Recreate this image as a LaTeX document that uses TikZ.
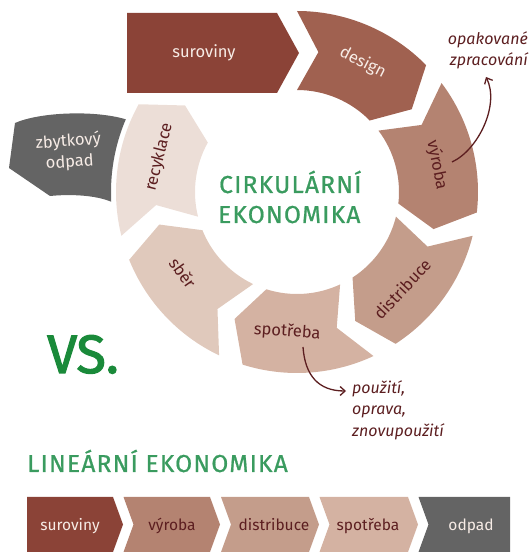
\documentclass[tikz,border=0pt]{standalone}
\usepackage{fontspec}
\setmainfont{Fira Sans}
\newfontfamily\headfont[LetterSpace=5,FakeBold=0.8]{Fira Sans}
\newfontfamily\vsfont[FakeBold=2.2]{Fira Sans}
\usetikzlibrary{arrows.meta,calc}
\definecolor{csur}{RGB}{139,67,55}
\definecolor{cdes}{RGB}{160,97,80}
\definecolor{cvyr}{RGB}{180,131,113}
\definecolor{cdis}{RGB}{196,157,139}
\definecolor{cspo}{RGB}{212,178,162}
\definecolor{csbe}{RGB}{224,201,188}
\definecolor{crec}{RGB}{236,222,215}
\definecolor{cgray}{RGB}{100,100,100}
\definecolor{cgreen}{RGB}{58,155,95}
\definecolor{cvs}{RGB}{26,138,58}
\definecolor{cmaroon}{RGB}{92,30,32}
\definecolor{clight}{RGB}{247,236,230}
\def\Ro{181}
\def\Ri{102}
\def\Rm{141.5}
\def\dd{8.7}
\newcommand\ringseg[3]{%
  \fill[#1] ($(C)+(#2:\Ro pt)$) arc[start angle=#2,end angle=#3,radius=\Ro pt]
    -- ($(C)+({#3-\dd}:\Rm pt)$) -- ($(C)+(#3:\Ri pt)$)
    arc[start angle=#3,end angle=#2,radius=\Ri pt]
    -- ($(C)+({#2-\dd}:\Rm pt)$) -- cycle;}
\begin{document}
\begin{tikzpicture}[x=1pt,y=1pt,
  ringtxt/.style={font=\fontsize{16.5}{21}\selectfont, inner sep=0pt},
  lintxt/.style={font=\fontsize{15.5}{19}\selectfont, inner sep=0pt, anchor=base},
  note/.style={font=\fontsize{16}{21.5}\selectfont\itshape, text=cmaroon, inner sep=0pt},
  head/.style={font=\fontsize{24.5}{30}\selectfont\headfont, text=cgreen, inner sep=0pt, anchor=base west},
  curly/.style={draw=cmaroon, line width=1.3pt, -{Straight Barb[length=5pt,width=9pt]}}]
\useasboundingbox (0,0) rectangle (531,552);
\coordinate (C) at (297,360);
% circular economy ring
\fill[csur] (127,539) -- (277,539) -- (299,499) -- (277,459) -- (127,459) -- cycle;
\ringseg{cdes}{90}{44.5}
\ringseg{cvyr}{37}{-6.5}
\ringseg{cdis}{-14}{-57}
\ringseg{cspo}{-65}{-107.5}
\ringseg{csbe}{-115.5}{-158}
\ringseg{crec}{-166}{-209}
% residual waste
\fill[cgray] (15,429) .. controls (40,440) and (95,442) .. ($(C)+(157:186pt)$)
  arc[start angle=157,end angle=183,radius=186pt]
  .. controls (95,357) and (70,358) .. (50,356) -- (9,384) -- cycle;
% ring labels
\node[ringtxt, text=clight] (tsur) at (204,499) {suroviny};
\node[ringtxt, text=clight, rotate=-27] (tdes) at ($(C)+(63:145pt)$) {design};
\node[ringtxt, text=cmaroon, rotate=-79] (tvyr) at ($(C)+(10.9:142.6pt)$) {výroba};
\node[ringtxt, text=cmaroon, rotate=47] (tdis) at ($(C)+(-42.7:143pt)$) {distribuce};
\node[ringtxt, text=cmaroon, rotate=-4] (tspo) at ($(C)+(-94:140pt)$) {spotřeba};
\node[ringtxt, text=cmaroon, rotate=-54.6] (tsbe) at ($(C)+(-144.6:140pt)$) {sběr};
\node[ringtxt, text=cmaroon, rotate=75.8] (trec) at ($(C)+(165.8:142pt)$) {recyklace};
\node[ringtxt, text=clight, align=center, rotate=4] (tzbyt) at (69,400) {zbytkový\\odpad};
% centre title
\node[head] (circ1) at (219,359) {CIRKULÁRNÍ};
\node[head] (circ2) at (218,329) {EKONOMIKA};
% notes and arrows
\node[note, align=right, anchor=north east] (opak) at (528,521) {opakované\\zpracování};
\node[note, align=left, anchor=north west] (pouz) at (352,172) {použití,\\oprava,\\znovupoužití};
\coordinate (a1s) at (452,390);
\coordinate (a1e) at (486,475);
\draw[curly] (a1s) .. controls (478,402) and (500,447) .. (a1e);
\coordinate (a2s) at (303,205);
\coordinate (a2e) at (346,161);
\draw[curly] (a2s) .. controls (305,177) and (318,161) .. (a2e);
% VS
\node[font=\fontsize{54}{60}\selectfont\vsfont, text=cvs, anchor=base west, inner sep=0pt] (vs) at (47,179) {VS.};
% linear economy
\node[head] (lin) at (27,80) {LINEÁRNÍ EKONOMIKA};
\fill[csur] (27,55) -- (113,55) -- (123,27.5) -- (113,0) -- (27,0) -- cycle;
\fill[cvyr] (123.5,55) -- (210,55) -- (220,27.5) -- (210,0) -- (123.5,0) -- (133.5,27.5) -- cycle;
\fill[cdis] (221,55) -- (309,55) -- (319,27.5) -- (309,0) -- (221,0) -- (231,27.5) -- cycle;
\fill[cspo] (319.5,55) -- (408,55) -- (418,27.5) -- (408,0) -- (319.5,0) -- (329.5,27.5) -- cycle;
\fill[cgray] (418.5,55) -- (510,55) -- (510,0) -- (418.5,0) -- (428.5,27.5) -- cycle;
\node[lintxt, text=clight] (lsur) at (70,21) {suroviny};
\node[lintxt, text=cmaroon] (lvyr) at (172,21) {výroba};
\node[lintxt, text=cmaroon] (ldis) at (274,21) {distribuce};
\node[lintxt, text=cmaroon] (lspo) at (368,21) {spotřeba};
\node[lintxt, text=clight] (lodp) at (471,21) {odpad};
\end{tikzpicture}
\end{document}
